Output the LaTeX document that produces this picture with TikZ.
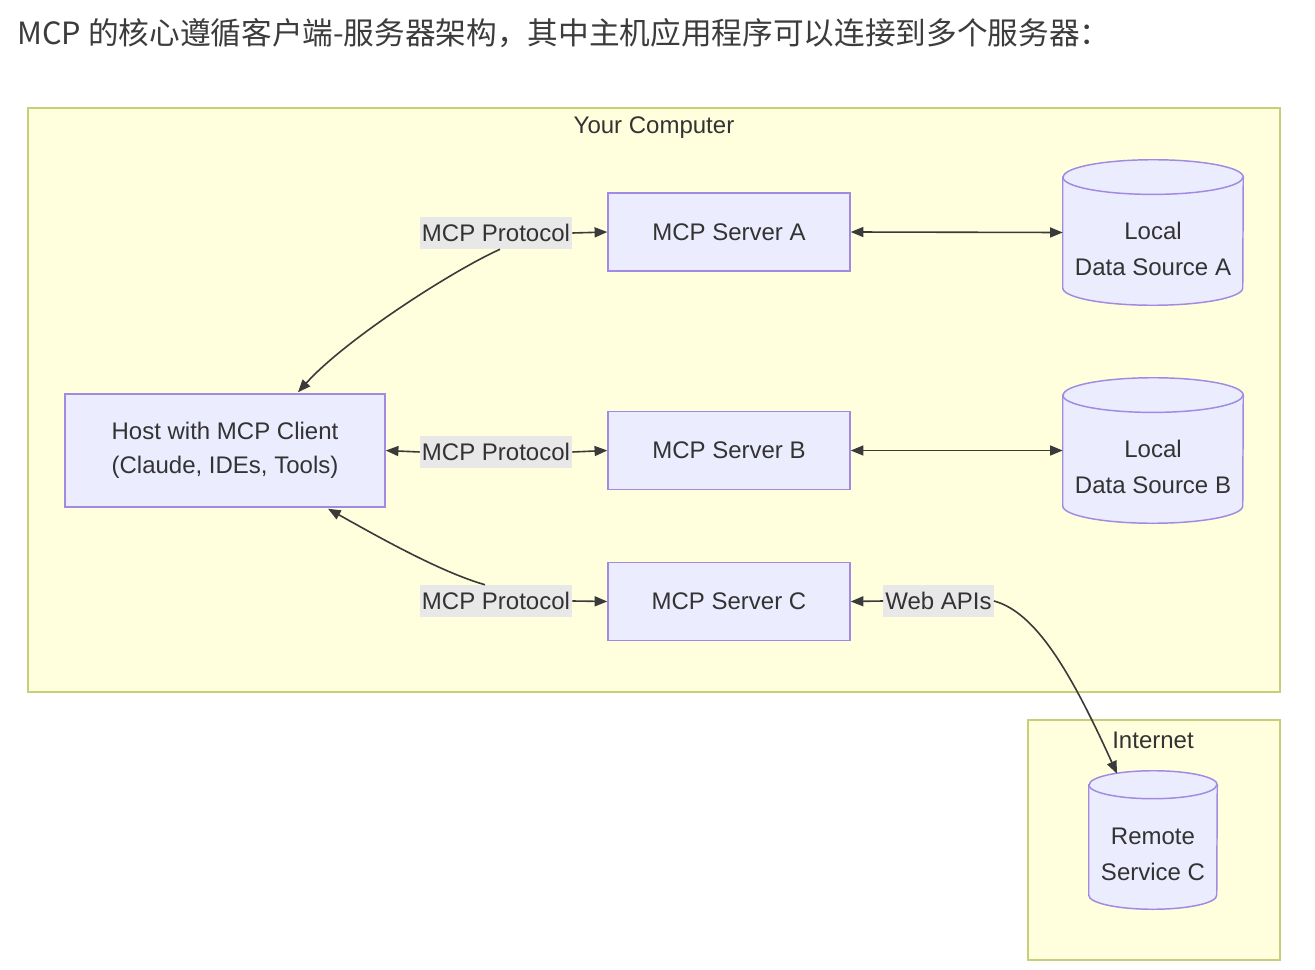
\documentclass[tikz,border=0pt]{standalone}
\usepackage{fontspec}
\setmainfont{Liberation Sans}
\newfontfamily\cjk{Noto Sans CJK SC}
\usetikzlibrary{arrows.meta,calc}
\definecolor{txt}{HTML}{333333}
\definecolor{ttl}{HTML}{3C3C3C}
\definecolor{nfill}{HTML}{ECECFF}
\definecolor{nstroke}{HTML}{A08AE2}
\definecolor{cfill}{HTML}{FFFFDE}
\definecolor{cstroke}{HTML}{C9CF78}
\definecolor{lfill}{HTML}{E8E8E8}
\definecolor{edgec}{HTML}{3A3A3A}
\newcommand\mycyl[3]{%
  \path[draw=nstroke, fill=nfill, line width=1.1pt]
    ([yshift=-#3]#1.north west) -- ([yshift=#3]#1.south west)
    arc[start angle=180, end angle=360, x radius=#2, y radius=#3]
    -- ([yshift=-#3]#1.north east)
    arc[start angle=0, end angle=180, x radius=#2, y radius=#3] -- cycle;
  \draw[nstroke, line width=1.1pt] ([yshift=-#3]#1.north west)
    arc[start angle=180, end angle=360, x radius=#2, y radius=#3];
}
\begin{document}
\begin{tikzpicture}[x=0.75pt, y=-0.75pt,
  every node/.style={text=txt, font=\fontsize{18}{26}\selectfont},
  cluster/.style={draw=cstroke, fill=cfill, line width=1.1pt, inner sep=0pt},
  box/.style={draw=nstroke, fill=nfill, line width=1.1pt, minimum width=181.5pt,
    minimum height=58.5pt, inner sep=0pt, align=center},
  dbshape/.style={inner sep=0pt, minimum width=135pt, minimum height=108.75pt},
  elabel/.style={fill=lfill, inner xsep=1.5pt, inner ysep=0pt, minimum height=24pt},
  tip/.tip={Triangle[length=9.5pt,width=7.5pt]},
  arr/.style={draw=edgec, line width=1.2pt, -tip},
  arrb/.style={draw=edgec, line width=1.2pt, tip-tip}
]
\useasboundingbox (0,0) rectangle (1315,970);
\fill[white] (0,0) rectangle (1315,970);

\node[anchor=west, font=\cjk\fontsize{23}{27}\selectfont, text=ttl, inner sep=0pt] (title) at (17,33)
  {MCP 的核心遵循客户端-服务器架构，其中主机应用程序可以连接到多个服务器：};

% clusters
\node[cluster, minimum width=939pt, minimum height=438pt] (yourc) at (654,400) {};
\node (yourclab) at (654,128) {Your Computer};
\node[cluster, minimum width=189pt, minimum height=180pt] (inet) at (1154,840) {};
\node (inetlab) at (1153,740) {Internet};

% nodes
\node[box, minimum width=240pt, minimum height=84.75pt, align=center, font=\fontsize{18}{25.5}\selectfont] (host) at (225,450.5)
  {Host with MCP Client\\(Claude, IDEs, Tools)};
\node[box] (sa) at (729,232) {MCP Server A};
\node[box] (sb) at (729,450.5) {MCP Server B};
\node[box] (sc) at (729,601.5) {MCP Server C};

\node[dbshape] (da) at (1153,232.5) {};
\mycyl{da}{67.5pt}{13pt}
\node[align=center, font=\fontsize{18}{27}\selectfont] (datext) at ([yshift=-12pt]da.center) {Local\\Data Source A};

\node[dbshape] (db) at (1153,450.5) {};
\mycyl{db}{67.5pt}{13pt}
\node[align=center, font=\fontsize{18}{27}\selectfont] (dbtext) at ([yshift=-12pt]db.center) {Local\\Data Source B};

\node[dbshape, minimum width=96pt, minimum height=103.5pt] (rc) at (1153,840) {};
\mycyl{rc}{48pt}{10.5pt}
\node[align=center, font=\fontsize{18}{27}\selectfont] (rctext) at ([yshift=-11pt]rc.center) {Remote\\Service C};

% edge labels
\node[elabel] (l1) at (496,233) {MCP Protocol};
\node[elabel] (l2) at (496,452) {MCP Protocol};
\node[elabel] (l3) at (496,601) {MCP Protocol};
\node[elabel] (l4) at (938.5,601) {Web APIs};

% edges
\draw[arr] (l1.east) -- (sa.west);
\draw[arr] ($(l1.south)+(4,0)$) .. controls (450,272) and (345,340) .. ($(host.north)+(73,-1)$);
\draw[arr] (l2.west) -- (host.east);
\draw[arr] (l2.east) -- (sb.west);
\draw[arr] ($(l3.north)+(-11,0)$) .. controls (440,572) and (375,535) .. ($(host.south)+(103,1)$);
\draw[arr] (l3.east) -- (sc.west);
\draw[arr] (l4.west) -- (sc.east);
\draw[arr] (l4.east) .. controls (1035,612) and (1070,670) .. ($(rc.north)+(-36,3)$);
\draw[arrb] (sa.east) -- (da.west);
\draw[arrb] (sb.east) -- (db.west);
\end{tikzpicture}
\end{document}
